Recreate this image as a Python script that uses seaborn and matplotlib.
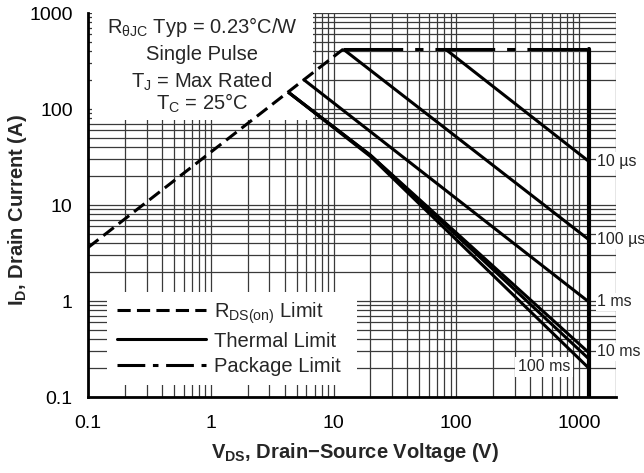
import matplotlib
matplotlib.use("Agg")
import matplotlib.pyplot as plt
import seaborn as sns
import pandas as pd
from matplotlib.lines import Line2D
from matplotlib.patches import Rectangle
import matplotlib.transforms as mtransforms

sns.set_theme(style="white")
plt.rcParams['font.family'] = ['Liberation Sans', 'DejaVu Sans']
plt.rcParams['mathtext.fontset'] = 'custom'
plt.rcParams['mathtext.rm'] = 'Liberation Sans'
plt.rcParams['mathtext.it'] = 'Liberation Sans'
plt.rcParams['mathtext.bf'] = 'Liberation Sans:bold'
plt.rcParams['lines.scale_dashes'] = False

# ---- data ----
rds_v = [0.1, 12]
rds_i = [3.6, 420]

pkg_v = [12, 1200]
pkg_i = [420, 420]

bv_v = [1200, 1200]
bv_i = [420, 0.1]

t10us_v = [81.6, 1200]
t10us_i = [420, 28.5]
t100us_v = [12, 1200]
t100us_i = [420, 4.36]
t1ms_v = [5.67, 1200]
t1ms_i = [204, 0.98]
t10ms_v = [4.27, 20, 1200]
t10ms_i = [150, 33, 0.29]
t10ms_b_v = [4.27, 20, 1200]
t10ms_b_i = [150, 33, 0.25]
t100ms_v = [4.27, 20, 1200]
t100ms_i = [150, 32, 0.2]

pulse_labels = ["10 \u00b5s", "100 \u00b5s", "1 ms", "10 ms", "100 ms"]
pulse_label_i = [28.5, 4.36, 0.98, 0.295, 0.206]

box_text = ["R$_{\\mathrm{\\theta JC}}$ Typ = 0.23\u00b0C/W", "Single Pulse",
            "T$_{\\mathrm{J}}$ = Max Rated", "T$_{\\mathrm{C}}$ = 25\u00b0C"]

legend_labels = ["R$_{\\mathrm{DS(on)}}$ Limit", "Thermal Limit", "Package Limit"]

tick_vals = [0.1, 1, 10, 100, 1000]
tick_text = ["0.1", "1", "10", "100", "1000"]

# ---- figure ----
fig = plt.figure(figsize=(6.44, 4.73), dpi=100)
W, H = 644, 473
L, R, T, B = 88, 616, 13, 397
ax = fig.add_axes([L / W, 1 - B / H, (R - L) / W, (B - T) / H])
ax.set_xscale('log')
ax.set_yscale('log')
ax.set_xlim(0.1, 2000)
ax.set_ylim(0.1, 1000)

ax.grid(True, which='both', color='#3a3a3a', lw=0.9, zorder=0)
ax.set_axisbelow(True)

LW = 2.2
lc = 'black'
# dash patterns in points (dash scaling off)
DASH = (0, (9.5, 4.5))
DASHDOT = (0, (43.0, 8.6, 6.0, 8.6))
DASHDOT_LEG = (0, (20.0, 5.5, 4.0, 5.5))


def draw(v, i, **kw):
    df = pd.DataFrame({'v': v, 'i': i})
    sns.lineplot(data=df, x='v', y='i', ax=ax, color=lc, sort=False,
                 estimator=None, zorder=5, **kw)


draw(rds_v, rds_i, lw=LW, linestyle=DASH)
draw(pkg_v, pkg_i, lw=LW, linestyle=DASHDOT)
draw(bv_v, bv_i, lw=3.0)
for v, i in [(t10us_v, t10us_i), (t100us_v, t100us_i), (t1ms_v, t1ms_i),
             (t10ms_v, t10ms_i), (t10ms_b_v, t10ms_b_i), (t100ms_v, t100ms_i)]:
    draw(v, i, lw=LW, solid_capstyle='butt')


def pxrect(x0, y0, x1, y1):
    r = Rectangle(((x0 - L) / (R - L), (B - y1) / (B - T)),
                  (x1 - x0) / (R - L), (y1 - y0) / (B - T),
                  transform=ax.transAxes, facecolor='white', edgecolor='none',
                  zorder=2)
    ax.add_patch(r)


pxrect(92, 13, 313, 120)
pxrect(107, 292, 357, 385)

# annotation text
baselines = [33, 59.5, 88, 110]
for t, y in zip(box_text, baselines):
    ax.text((202 - L) / (R - L), (B - y) / (B - T), t, transform=ax.transAxes,
            ha='center', va='baseline', fontsize=14.5, zorder=6)

# legend
handles = [Line2D([], [], color=lc, lw=LW, linestyle=DASH),
           Line2D([], [], color=lc, lw=LW),
           Line2D([], [], color=lc, lw=LW, linestyle=DASHDOT_LEG)]
leg = ax.legend(handles, legend_labels, loc='upper left',
                bbox_to_anchor=((117 - L) / (R - L), (B - 300) / (B - T)),
                frameon=False, fontsize=14.5, handlelength=4.4,
                handletextpad=0.4, labelspacing=0.3, borderpad=0.0,
                borderaxespad=0.0)
leg.set_zorder(6)

# pulse labels on the right
trans = mtransforms.blended_transform_factory(ax.transAxes, ax.transData)
for t, yv in zip(pulse_labels, pulse_label_i):
    if t == "100 ms":
        ax.text((544 - L) / (R - L), yv, t, transform=trans, ha='center',
                va='center', fontsize=11.5, zorder=7,
                bbox=dict(facecolor='white', edgecolor='none', pad=2.0))
    else:
        ax.text((597 - L) / (R - L), yv, t, transform=trans, ha='left',
                va='center', fontsize=11.5, zorder=7, clip_on=False,
                bbox=dict(facecolor='white', edgecolor='none', pad=1.0))

# axes styling
for s in ['top', 'right']:
    ax.spines[s].set_visible(False)
for s in ['left', 'bottom']:
    ax.spines[s].set_color('black')
    ax.spines[s].set_linewidth(2.0)
    ax.spines[s].set_zorder(8)

ax.set_xticks(tick_vals)
ax.set_xticklabels(tick_text)
ax.set_yticks(tick_vals)
ax.set_yticklabels(tick_text)
ax.xaxis.set_minor_locator(matplotlib.ticker.LogLocator(base=10, subs=range(2, 10), numticks=20))
ax.yaxis.set_minor_locator(matplotlib.ticker.LogLocator(base=10, subs=range(2, 10), numticks=20))
ax.xaxis.set_minor_formatter(matplotlib.ticker.NullFormatter())
ax.yaxis.set_minor_formatter(matplotlib.ticker.NullFormatter())
ax.tick_params(axis='both', which='both', length=0, labelsize=14, colors='black')
ax.tick_params(axis='x', pad=13)
ax.tick_params(axis='y', pad=11)

ax.set_xlabel("V$_{\\mathbf{DS}}$, Drain\u2212Source Voltage (V)", fontsize=14.5,
              fontweight='bold')
ax.xaxis.set_label_coords((355 - L) / (R - L), (B - 452) / (B - T))
ax.xaxis.label.set_va('center')
ax.set_ylabel("I$_{\\mathbf{D}}$, Drain Current (A)", fontsize=14.5,
              fontweight='bold')
ax.yaxis.set_label_coords((18 - L) / (R - L), (B - 210) / (B - T))
ax.yaxis.label.set_va('center')

fig.savefig("out.png", dpi=100)
